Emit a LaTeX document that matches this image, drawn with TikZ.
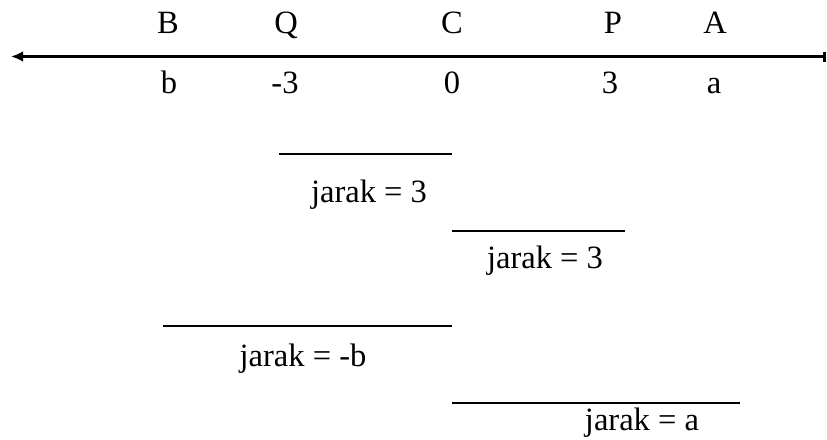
\documentclass[tikz,border=0pt]{standalone}
\usepackage{fontspec}
\setmainfont{Liberation Serif}
\usepackage{tikz}
\usetikzlibrary{positioning, arrows.meta}
\definecolor{nInk}{HTML}{000000}

\begin{document}
\begin{tikzpicture}[x=0.75pt, y=-0.75pt,
  lbl/.style={anchor=base, inner sep=0pt, text=nInk, font=\fontsize{24.4}{28}\selectfont},
  seg/.style={draw=nInk, line width=2.1pt},
  axis/.style={draw=nInk, line width=2.1pt, {Latex[length=9pt, width=8pt]}-{Bar[width=7.5pt]}}]
  \useasboundingbox (0,0) rectangle (827,439);
  % number line
  \coordinate (axL) at (11,56.5);
  \coordinate (axR) at (826,56.5);
  \draw[axis] (axL) -- (axR);
  % points above, values below
  \node[lbl] (ptB) at (168,33) {B};
  \node[lbl] (ptQ) at (286,33) {Q};
  \node[lbl] (ptC) at (452,33) {C};
  \node[lbl] (ptP) at (613,33) {P};
  \node[lbl] (ptA) at (715,33) {A};
  \node[lbl] (vb) at (169,93) {b};
  \node[lbl] (vQ) at (285,93) {-3};
  \node[lbl] (vC) at (452,93) {0};
  \node[lbl] (vP) at (610,93) {3};
  \node[lbl] (va) at (714,93) {a};
  % distances
  \coordinate (s1a) at (279,154);
  \coordinate (s1b) at (452,154);
  \draw[seg] (s1a) -- (s1b);
  \node[lbl] (d1) at (369,202) {jarak = 3};
  \coordinate (s2a) at (452,231);
  \coordinate (s2b) at (625,231);
  \draw[seg] (s2a) -- (s2b);
  \node[lbl] (d2) at (545,268) {jarak = 3};
  \coordinate (s3a) at (163,326);
  \coordinate (s3b) at (452,326);
  \draw[seg] (s3a) -- (s3b);
  \node[lbl] (d3) at (303,366) {jarak = -b};
  \coordinate (s4a) at (452,403);
  \coordinate (s4b) at (740,403);
  \draw[seg] (s4a) -- (s4b);
  \node[lbl] (d4) at (642,430) {jarak = a};
\end{tikzpicture}
\end{document}
